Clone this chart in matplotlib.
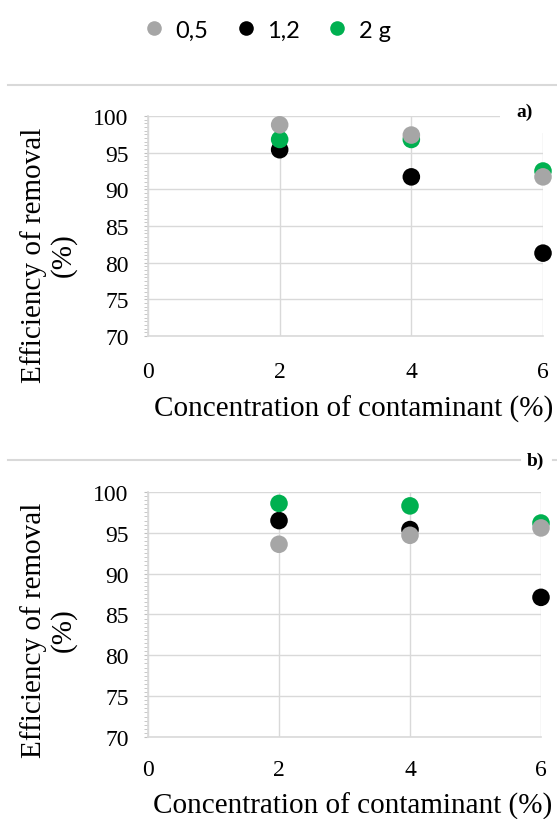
#!/usr/bin/env python3
"""Removal efficiency vs contaminant concentration, two panels (a, b)"""
import matplotlib; matplotlib.use("Agg")
import matplotlib.pyplot as plt
from matplotlib.lines import Line2D
from matplotlib.patches import Rectangle
from matplotlib.ticker import MultipleLocator

# data
conc = [2, 4, 6]
series = ["0,5", "1,2", "2 g"]
colors = ["#A6A6A6", "#000000", "#00B050"]
eff_a = {
    "0,5": [98.8, 97.4, 91.7],
    "1,2": [95.4, 91.7, 81.3],
    "2 g": [96.8, 96.8, 92.5],
}
eff_b = {
    "0,5": [93.6, 94.7, 95.6],
    "1,2": [96.5, 95.4, 87.1],
    "2 g": [98.6, 98.3, 96.2],
}
xticks = [0, 2, 4, 6]
yticks = [70, 75, 80, 85, 90, 95, 100]

GRID = "#D9D9D9"
SERIF = "Liberation Serif"
plt.rcParams["font.family"] = SERIF

W, H = 557, 820
fig = plt.figure(figsize=(W / 100, H / 100), dpi=100)


def px_box(l, t, r, b):
    return [l / W, 1 - b / H, (r - l) / W, (b - t) / H]


def panel(ax, data, xlab_y, ylab_y, xpad):
    zo = {"0,5": 5, "1,2": 3, "2 g": 4}
    for name, c in zip(series, colors):
        ax.scatter(conc, data[name], s=160, color=c, edgecolor="none",
                   zorder=zo[name], clip_on=False, label=name)
    ax.set_xlim(0, 6)
    ax.set_ylim(70, 100)
    ax.set_xticks(xticks)
    ax.set_yticks(yticks)
    ax.yaxis.set_minor_locator(MultipleLocator(0.5))
    ax.grid(True, color=GRID, linewidth=1.0)
    ax.set_axisbelow(True)
    for s in ["top", "right"]:
        ax.spines[s].set_visible(False)
    for s in ["left", "bottom"]:
        ax.spines[s].set_color(GRID)
        ax.spines[s].set_linewidth(1.2)
    ax.tick_params(axis="x", length=0, labelsize=17, pad=xpad)
    ax.tick_params(axis="y", which="both", length=3, color="#BFBFBF",
                   labelsize=17, pad=11)
    ax.set_xlabel("Concentration of contaminant (%)", fontsize=21)
    ax.xaxis.set_label_coords(0.52, xlab_y)
    ax.xaxis.label.set_va("center")
    ax.set_ylabel("Efficiency of removal\n(%)", fontsize=21, linespacing=1.15)
    ax.yaxis.set_label_coords(-0.253, ylab_y)
    ax.yaxis.label.set_va("center")
    ax.yaxis.label.set_ha("center")


ax_a = fig.add_axes(px_box(148, 117, 543, 337))
panel(ax_a, eff_a, -0.33, 0.37, 18)
ax_b = fig.add_axes(px_box(148, 493, 541, 738))
panel(ax_b, eff_b, -0.28, 0.44, 16)

# chart-area border lines
fig.add_artist(Line2D([8 / W, 1], [1 - 86 / H] * 2, color=GRID, lw=1.5))
fig.add_artist(Line2D([8 / W, 520 / W], [1 - 461 / H] * 2, color=GRID, lw=1.5))
fig.add_artist(Line2D([553 / W, 1], [1 - 461 / H] * 2, color=GRID, lw=1.5))

# white box behind "a)" (hides the grid corner)
fig.add_artist(Rectangle((500 / W, 1 - 134 / H), 57 / W, 40 / H,
                         transform=fig.transFigure, facecolor="white",
                         edgecolor="none", zorder=5))
fig.text(525 / W, 1 - 112 / H, "a)", fontsize=14, fontweight="bold",
         ha="center", va="center", zorder=6)
fig.text(535 / W, 1 - 461 / H, "b)", fontsize=14, fontweight="bold",
         ha="center", va="center", zorder=6,
         bbox=dict(facecolor="white", edgecolor="none", pad=1))

# legend
handles = [Line2D([], [], marker="o", ls="", color=c, markersize=10.5, markeredgewidth=0)
           for c in colors]
fig.legend(handles, series, loc="center", bbox_to_anchor=(0.476, 1 - 31 / H),
           ncol=3, frameon=False, handletextpad=0.3, columnspacing=1.0,
           handlelength=1.2, prop={"family": ["Lato", "DejaVu Sans"], "size": 17})

fig.savefig("out.png", dpi=100)
